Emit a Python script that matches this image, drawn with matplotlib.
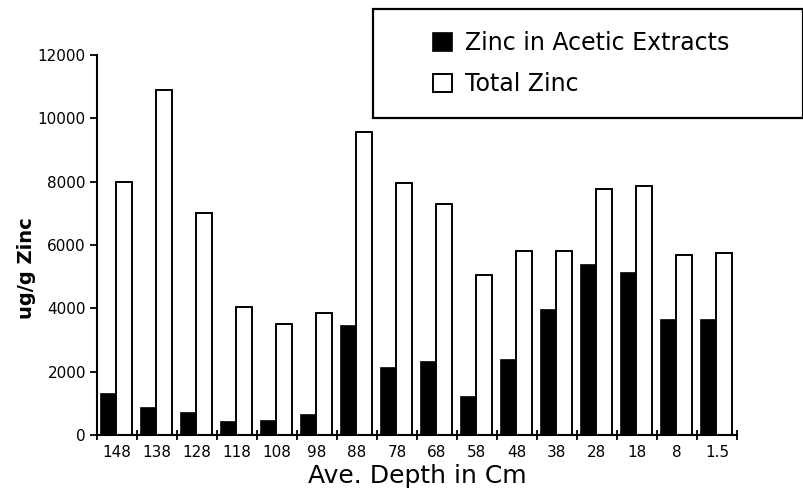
import matplotlib
matplotlib.use('Agg')
import matplotlib.pyplot as plt
from matplotlib.patches import Rectangle
import numpy as np

# Profundidades (cm) y concentraciones de zinc (ug/g)
depths = ['148', '138', '128', '118', '108', '98', '88', '78',
          '68', '58', '48', '38', '28', '18', '8', '1.5']
acetic_zinc = [1300, 850, 700, 400, 450, 630, 3430, 2130,
               2290, 1210, 2370, 3960, 5360, 5120, 3640, 3640]
total_zinc = [8000, 10900, 7000, 4050, 3500, 3850, 9570, 7960,
              7300, 5040, 5800, 5800, 7780, 7860, 5700, 5750]

plt.rcParams['font.family'] = ['DejaVu Sans']

fig = plt.figure(figsize=(8.04, 4.97), dpi=100)
ax = fig.add_axes([97/804, 62/497, 640/804, 380/497])

x = np.arange(len(depths))
ax.bar(x - 0.23, acetic_zinc, width=0.36, color='black', edgecolor='black',
       linewidth=1.2, label='Zinc in Acetic Extracts')
ax.bar(x + 0.175, total_zinc, width=0.40, color='white', edgecolor='black',
       linewidth=1.4, label='Total Zinc')

ax.set_xlim(-0.5, len(depths) - 0.5)
ax.set_ylim(0, 12000)
ax.set_yticks(np.arange(0, 12001, 2000))
ax.set_xticks(x)
ax.set_xticklabels(depths, fontsize=11)
ax.set_xticks(np.arange(-0.5, len(depths), 1.0), minor=True)
ax.tick_params(axis='x', which='major', length=0, pad=7)
ax.tick_params(axis='x', which='minor', length=7, width=1.3, direction='inout')
ax.tick_params(axis='y', length=5, width=1.3, labelsize=11, pad=3)

for s in ['top', 'right']:
    ax.spines[s].set_visible(False)
for s in ['left', 'bottom']:
    ax.spines[s].set_linewidth(1.5)

ax.set_xlabel('Ave. Depth in Cm', fontsize=18, labelpad=3)
ax.set_ylabel('ug/g Zinc', fontsize=14, fontweight='bold')
ax.yaxis.set_label_coords(-0.095, 0.44)

# Caja de la leyenda dibujada a mano
fig.patches.append(Rectangle((373/804, 379/497), 430/804, 109/497,
                             transform=fig.transFigure, fill=False,
                             edgecolor='black', linewidth=1.6))
ax.legend(loc='upper left', bbox_to_anchor=(433/804, 466/497),
          bbox_transform=fig.transFigure, frameon=False, fontsize=17,
          handlelength=0.8, handleheight=0.8, handletextpad=0.55,
          labelspacing=0.72, borderpad=0, borderaxespad=0)

fig.savefig('out.png', dpi=100)
